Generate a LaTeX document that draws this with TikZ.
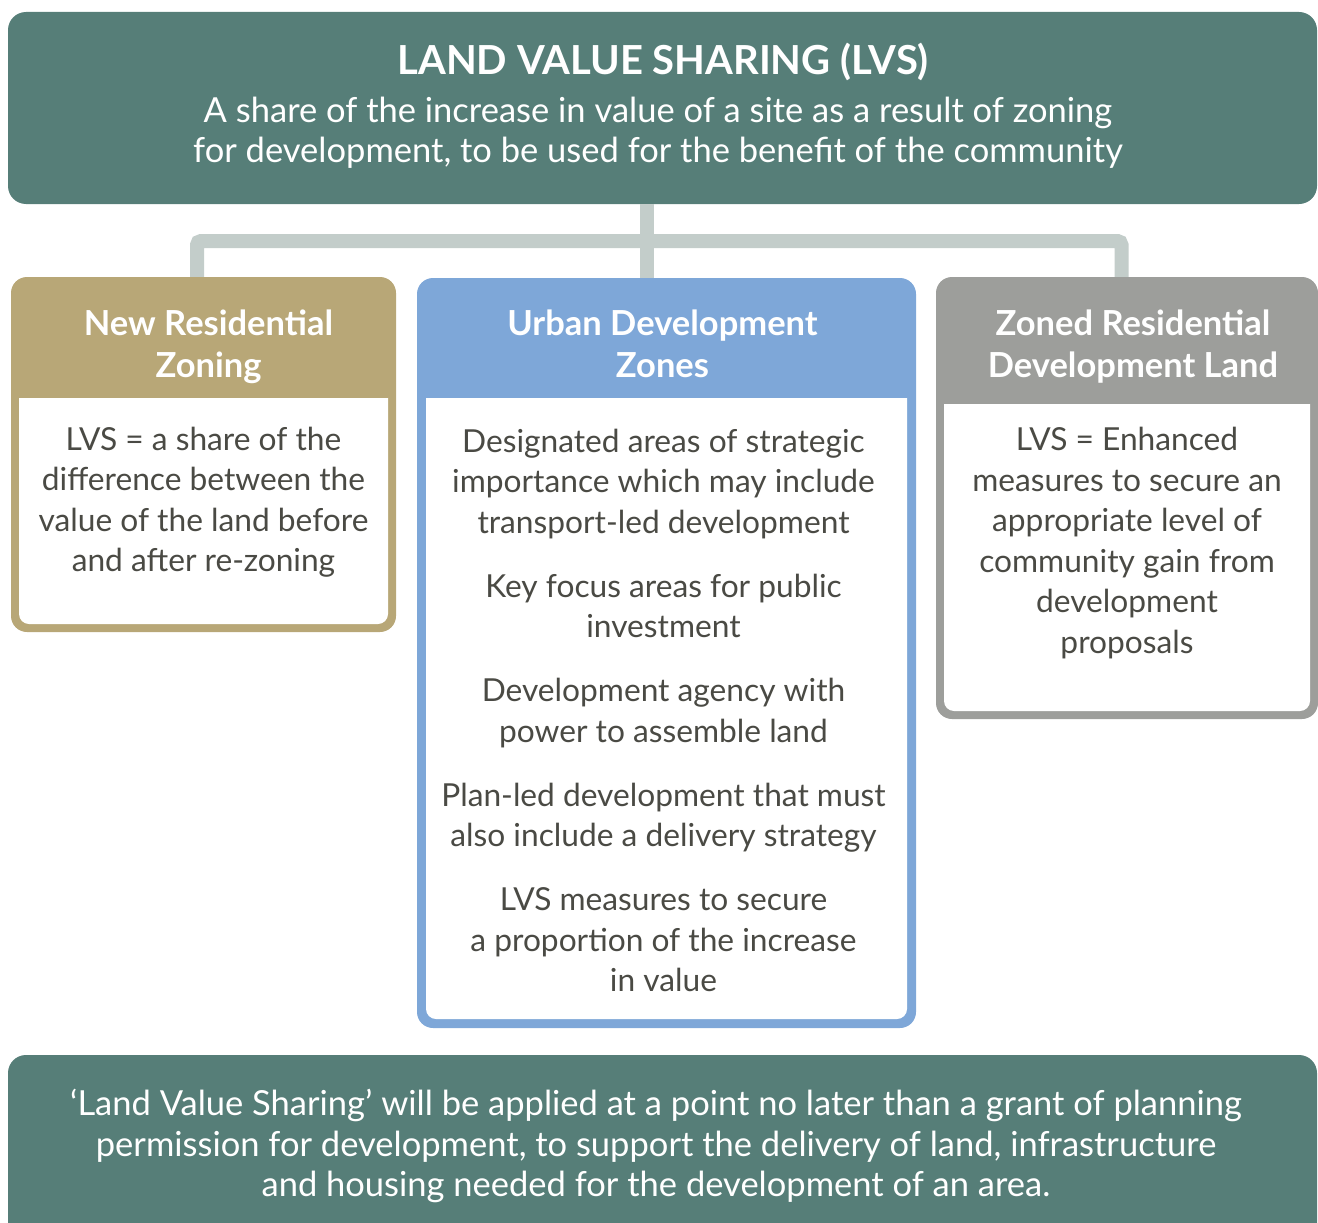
\documentclass[tikz,border=0pt]{standalone}
\usepackage{fontspec}
\setmainfont{Lato}
\usepackage{tikz}
\usetikzlibrary{calc}

\definecolor{lvsteal}{HTML}{567E78}
\definecolor{lvsgold}{HTML}{B8A777}
\definecolor{lvsblue}{HTML}{7EA7D8}
\definecolor{lvsgrey}{HTML}{9D9E9B}
\definecolor{lvslink}{HTML}{C3CDCA}
\definecolor{lvstext}{HTML}{4A4A44}

\begin{document}
\begin{tikzpicture}[x=1pt, y=-1pt,
  banner/.style={fill=lvsteal, rounded corners=18pt, inner sep=0pt},
  bannertext/.style={text=white, inner sep=0pt, align=center,
    font=\fontsize{34.5}{40.5}\selectfont},
  boxframe/.style={fill=#1, rounded corners=16pt, inner sep=0pt},
  boxpanel/.style={fill=white, rounded corners=10pt, inner sep=0pt},
  boxhead/.style={fill=#1, inner sep=0pt},
  headtext/.style={text=white, align=center, inner sep=0pt,
    font=\fontsize{34.5}{42}\selectfont\bfseries},
  boxtext/.style={text=lvstext, align=center, inner sep=0pt,
    font=\fontsize{31.7}{40.5}\selectfont},
  link/.style={draw=lvslink, line width=14pt}]
  \clip (0, 0) rectangle (1318, 1223);

% top banner
  \draw (662.5, 108) node[banner, minimum width=1309pt, minimum height=192pt] (lvs) {};
  \draw (663, 62) node[text=white, inner sep=0pt, font=\fontsize{40}{44}\selectfont\bfseries] (lvstitle) {LAND VALUE SHARING (LVS)};
  \draw (658, 133) node[bannertext] (lvssub)
    {A share of the increase in value of a site as a result of zoning\\for development, to be used for the benefit of the community};

% new residential zoning
  \draw (203.5, 454.5) node[boxframe=lvsgold, minimum width=385pt, minimum height=355pt] (nrz) {};
  \draw (203.5, 506) node[boxpanel, minimum width=369pt, minimum height=236pt] (nrzpanel) {};
  \draw (203.5, 346.5) node[boxhead=lvsgold, minimum width=369pt, minimum height=103pt] (nrzhead) {};
  \draw ($(nrzhead) + (5, 0)$) node[headtext] (nrzlabel) {New Residential\\Zoning};
  \draw ($(nrzhead.south) + (0, 104)$) node[boxtext] (nrztext)
    {LVS = a share of the\\difference between the\\value of the land before\\and after re-zoning};

% urban development zones
  \draw (666.5, 653) node[boxframe=lvsblue, minimum width=499pt, minimum height=750pt] (urb) {};
  \draw (666.5, 703.5) node[boxpanel, minimum width=481pt, minimum height=631pt] (urbpanel) {};
  \draw (666.5, 343.5) node[boxhead=lvsblue, minimum width=481pt, minimum height=109pt] (urbhead) {};
  \draw ($(urbhead) + (-4, 0)$) node[headtext] (urblabel) {Urban Development\\Zones};
  \draw ($(urbhead.south) + (-3, 312)$) node[boxtext] (urbtext)
    {Designated areas of strategic\\importance which may include\\transport-led development\\[23.5pt]
     Key focus areas for public\\investment\\[23.5pt]
     Development agency with\\power to assemble land\\[23.5pt]
     Plan-led development that must\\also include a delivery strategy\\[23.5pt]
     LVS measures to secure\\a proportion of the increase\\in value};

% zoned residential development land
  \draw (1127, 498) node[boxframe=lvsgrey, minimum width=382pt, minimum height=442pt] (zrd) {};
  \draw (1127, 552.5) node[boxpanel, minimum width=366pt, minimum height=317pt] (zrdpanel) {};
  \draw (1127, 346.5) node[boxhead=lvsgrey, minimum width=366pt, minimum height=115pt] (zrdhead) {};
  \draw ($(zrdhead) + (6, 0)$) node[headtext] (zrdlabel) {Zoned Residential\\Development Land};
  \draw ($(zrdhead.south) + (0, 139)$) node[boxtext] (zrdtext)
    {LVS = Enhanced\\measures to secure an\\appropriate level of\\community gain from\\development\\proposals};

% bottom banner
  \draw (662.5, 1155) node[banner, minimum width=1309pt, minimum height=200pt] (apply) {};
  \draw (656, 1146) node[bannertext] (applytext)
    {‘Land Value Sharing’ will be applied at a point no later than a grant of planning\\permission for development, to support the delivery of land, infrastructure\\and housing needed for the development of an area.};

% links
  \coordinate (hub) at (647, 241);
  \draw[link] (lvs.south -| hub) -- (urb.north -| hub);
  \draw[link, rounded corners=4pt] ($(nrz.north) + (-6.5, 0)$) |- (hub) -| ($(zrd.north) + (-5.5, 0)$);
\end{tikzpicture}
\end{document}
